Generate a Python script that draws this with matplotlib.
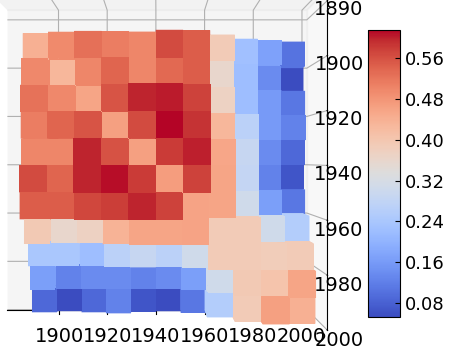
import numpy as np
import matplotlib
matplotlib.use("Agg")
import matplotlib.pyplot as plt
from matplotlib import cm, colors

# decade labels of the correlation grid (rows = y, cols = x)
decades = np.arange(1890, 2000, 10)

corr = np.array([
    [0.440, 0.495, 0.525, 0.510, 0.500, 0.565, 0.547, 0.390, 0.225, 0.170, 0.105],
    [0.497, 0.430, 0.500, 0.540, 0.500, 0.535, 0.547, 0.360, 0.220, 0.137, 0.053],
    [0.523, 0.497, 0.457, 0.556, 0.598, 0.604, 0.575, 0.373, 0.220, 0.160, 0.110],
    [0.510, 0.540, 0.556, 0.465, 0.565, 0.615, 0.587, 0.430, 0.270, 0.160, 0.125],
    [0.500, 0.500, 0.598, 0.560, 0.465, 0.580, 0.601, 0.455, 0.290, 0.138, 0.090],
    [0.565, 0.540, 0.598, 0.610, 0.580, 0.470, 0.575, 0.458, 0.285, 0.125, 0.065],
    [0.547, 0.547, 0.570, 0.578, 0.598, 0.575, 0.460, 0.458, 0.306, 0.165, 0.110],
    [0.395, 0.360, 0.375, 0.435, 0.458, 0.458, 0.460, 0.390, 0.390, 0.306, 0.255],
    [0.240, 0.240, 0.220, 0.270, 0.290, 0.270, 0.306, 0.390, 0.390, 0.385, 0.390],
    [0.165, 0.125, 0.137, 0.137, 0.125, 0.137, 0.165, 0.306, 0.395, 0.405, 0.458],
    [0.090, 0.053, 0.090, 0.125, 0.065, 0.055, 0.110, 0.255, 0.390, 0.465, 0.440],
])

xticks = [1900, 1920, 1940, 1960, 1980, 2000]
yticks = [1880, 1900, 1920, 1940, 1960, 1980, 2000]
ylabels = ['1890', '1900', '1920', '1940', '1960', '1980', '2000']
cbar_ticks = [0.08, 0.16, 0.24, 0.32, 0.40, 0.48, 0.56]

fig = plt.figure(figsize=(4.76, 3.56), dpi=100)
ax = fig.add_axes([-0.204, -0.178, 1.04, 1.42], projection='3d')

xx, yy = np.meshgrid(decades, decades)
norm = colors.Normalize(corr.min(), corr.max())
facecols = cm.coolwarm(norm(corr.ravel()))
# rows run downwards, so the y data is negated (ticks relabelled below)
ax.bar3d(xx.ravel(), -yy.ravel() - 10, np.zeros(corr.size), 10, 10,
         corr.ravel(), color=facecols, shade=False)

ax.view_init(elev=90, azim=-90)
ax.set_proj_type('persp', focal_length=0.7)
ax.set_xlim(1879, 2002)
ax.set_ylim(-2000, -1876)
ax.set_zlim(0, 0.62)
ax.set_xticks(xticks)
ax.set_yticks([-t for t in yticks])
ax.set_yticklabels(ylabels)
ax.set_zticks([])
ax.zaxis.line.set_visible(False)
ax.xaxis.set_ticks_position('default')
ax.yaxis.set_ticks_position('upper')
ax.tick_params(labelsize=14)
ax.yaxis.set_tick_params(pad=-2)

cax = fig.add_axes([0.773, 0.110, 0.067, 0.806])
sm = cm.ScalarMappable(norm=norm, cmap='coolwarm')
cb = fig.colorbar(sm, cax=cax, ticks=cbar_ticks)
cb.ax.tick_params(direction='in', labelsize=13)

fig.savefig("out.png", dpi=100)
